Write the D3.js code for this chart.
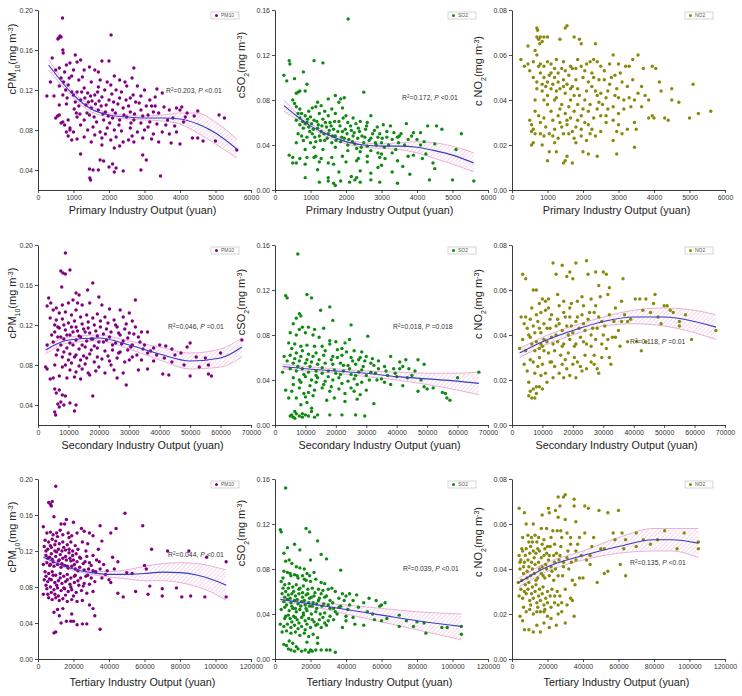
<!DOCTYPE html>
<html lang="en">
<head>
<meta charset="utf-8">
<title>Industry output vs pollutants</title>
<script src="https://d3js.org/d3.v7.min.js"></script>
<style>
body { margin: 0; background: #fff; }
text { font-family: "Liberation Sans", Arial, sans-serif; }
</style>
</head>
<body>
<svg id="chart" width="742" height="696"></svg>
<script>
// ---- scatter data: [output (yuan), concentration (mg m-3)] ----
var pm10Primary = [[690,0.192],[2060,0.175],[580,0.172],[620,0.174],[650,0.173],[560,0.171],[700,0.160],[710,0.157],[400,0.152],[1050,0.155],[1200,0.150],[1800,0.149],[2000,0.149],[2700,0.142],[1100,0.148],[1450,0.143],[1600,0.140],[1700,0.138],[900,0.147],[800,0.145],[600,0.142],[500,0.140],[750,0.138],[1000,0.140],[1300,0.140],[1250,0.133],[950,0.134],[880,0.132],[1150,0.130],[2150,0.134],[2300,0.130],[2650,0.132],[2450,0.128],[1950,0.128],[1750,0.130],[1500,0.128],[350,0.128],[600,0.124],[850,0.125],[1300,0.122],[1700,0.123],[2050,0.125],[2200,0.120],[2500,0.124],[2800,0.124],[3000,0.120],[3350,0.121],[2900,0.114],[3500,0.117],[250,0.114],[450,0.114],[700,0.115],[1000,0.115],[1100,0.118],[1400,0.117],[1600,0.115],[1800,0.113],[2000,0.110],[2300,0.112],[2600,0.112],[2750,0.108],[3200,0.104],[3150,0.110],[3300,0.104],[3700,0.100],[3900,0.102],[4050,0.103],[4000,0.100],[4500,0.099],[5100,0.095],[5250,0.092],[600,0.105],[800,0.106],[1050,0.108],[1200,0.110],[1350,0.105],[1500,0.102],[1700,0.100],[1900,0.098],[2100,0.100],[2400,0.102],[2600,0.098],[2900,0.100],[3100,0.095],[3400,0.097],[600,0.095],[850,0.090],[1100,0.093],[1300,0.090],[1450,0.095],[1650,0.088],[1850,0.090],[2100,0.092],[2300,0.090],[2500,0.093],[2700,0.090],[2900,0.087],[3150,0.088],[3350,0.086],[3650,0.090],[3800,0.092],[4150,0.093],[4400,0.094],[750,0.085],[900,0.082],[1000,0.078],[1200,0.085],[1400,0.080],[1550,0.083],[1750,0.078],[1950,0.082],[2150,0.080],[2350,0.079],[2600,0.082],[2800,0.078],[3000,0.080],[3250,0.076],[3500,0.078],[3700,0.076],[3900,0.078],[800,0.078],[850,0.074],[1300,0.073],[1600,0.075],[1800,0.072],[2050,0.070],[2200,0.073],[2400,0.068],[2550,0.070],[2700,0.068],[2950,0.072],[3200,0.071],[3400,0.068],[3750,0.067],[4000,0.066],[4350,0.072],[4500,0.072],[4650,0.069],[5000,0.069],[5600,0.060],[1800,0.065],[2150,0.062],[2950,0.055],[3050,0.050],[1200,0.056],[1750,0.050],[1850,0.049],[2100,0.046],[2200,0.042],[2000,0.043],[1450,0.041],[1550,0.040],[1460,0.032],[1480,0.030],[2150,0.038],[2400,0.039],[2900,0.040],[3450,0.034],[1700,0.040],[500,0.092],[550,0.094],[650,0.087],[700,0.088],[900,0.080],[950,0.070],
  [650,0.132],[720,0.128],[780,0.120],[820,0.112],[950,0.118],[1020,0.101],[1080,0.097],[1150,0.104],[1180,0.096],[1230,0.118],[1320,0.112],[1380,0.097],[1420,0.108],[1480,0.114],[1520,0.109],[1580,0.093],[1620,0.106],[1680,0.118],[1720,0.109],[1780,0.104],[1830,0.096],[1880,0.120],[1920,0.105],[1980,0.094],[2020,0.087],[2080,0.116],[2130,0.108],[2180,0.097],[2250,0.106],[2280,0.085],[2350,0.118],[2420,0.095],[2480,0.110],[2550,0.104],[2620,0.087],[2680,0.115],[2720,0.096],[2850,0.107],[2950,0.094],[3050,0.104],[3100,0.083],[3250,0.098],[3300,0.113],[3550,0.103],[3600,0.085],[3850,0.084],[4100,0.088],[4200,0.097],[1100,0.071],[1500,0.068],[1900,0.076],[2300,0.064],[2650,0.074]];

var so2Primary = [[2060,0.152],[400,0.115],[420,0.112],[1100,0.115],[1350,0.113],[250,0.102],[330,0.097],[800,0.105],[550,0.099],[900,0.094],[700,0.088],[650,0.087],[600,0.086],[850,0.088],[2500,0.087],[1500,0.081],[1850,0.081],[1700,0.084],[1950,0.082],[1800,0.078],[1200,0.078],[500,0.080],[550,0.077],[600,0.074],[700,0.072],[950,0.070],[1050,0.073],[1150,0.074],[1300,0.075],[1400,0.070],[1600,0.072],[1900,0.073],[750,0.068],[850,0.066],[1000,0.065],[1250,0.068],[1500,0.066],[1700,0.068],[2000,0.066],[2200,0.064],[2700,0.066],[600,0.062],[900,0.060],[1100,0.062],[1350,0.063],[1550,0.060],[1800,0.061],[2050,0.060],[2400,0.061],[2600,0.060],[3050,0.058],[3250,0.057],[3700,0.059],[4300,0.057],[4550,0.057],[4700,0.054],[5250,0.050],[700,0.058],[800,0.055],[950,0.056],[1200,0.055],[1300,0.052],[1450,0.056],[1650,0.054],[1900,0.052],[2150,0.053],[2350,0.055],[2550,0.054],[2800,0.053],[2950,0.050],[3150,0.052],[3450,0.047],[3550,0.050],[3900,0.051],[4100,0.051],[650,0.050],[750,0.048],[900,0.047],[1050,0.050],[1250,0.048],[1500,0.050],[1700,0.048],[1950,0.046],[2200,0.048],[2450,0.048],[2700,0.046],[2900,0.047],[3300,0.045],[3500,0.048],[3750,0.045],[4000,0.045],[4200,0.043],[1000,0.042],[1150,0.043],[1400,0.044],[1600,0.042],[1850,0.043],[2050,0.040],[2250,0.041],[2500,0.042],[2600,0.039],[2850,0.040],[3000,0.042],[3200,0.040],[3400,0.036],[3650,0.040],[4500,0.041],[5100,0.036],[600,0.042],[800,0.044],[850,0.036],[1100,0.038],[1350,0.036],[1700,0.038],[2050,0.035],[2300,0.037],[2400,0.034],[2700,0.035],[2900,0.033],[3000,0.032],[3300,0.033],[3900,0.031],[4250,0.032],[400,0.031],[500,0.029],[700,0.028],[900,0.029],[1150,0.030],[1300,0.028],[1600,0.029],[1900,0.030],[2350,0.028],[2600,0.030],[2950,0.029],[3100,0.028],[3450,0.026],[3750,0.030],[4150,0.028],[4450,0.024],[500,0.024],[600,0.024],[850,0.023],[1250,0.025],[1500,0.024],[2000,0.025],[2300,0.026],[2600,0.025],[3000,0.022],[3600,0.021],[2900,0.020],[3800,0.014],[4500,0.019],[1200,0.018],[2400,0.017],[1800,0.016],[2700,0.015],[3300,0.016],[850,0.011],[1500,0.011],[1250,0.007],[1500,0.008],[1650,0.006],[1700,0.004],[1850,0.008],[2100,0.007],[2250,0.009],[2400,0.007],[2700,0.009],[2950,0.007],[3450,0.006],[4350,0.009],[5000,0.009],[5600,0.008],[2150,0.012],[2300,0.011],[1100,0.029],[1650,0.023],
  [650,0.068],[700,0.064],[780,0.061],[850,0.059],[920,0.063],[980,0.052],[1030,0.059],[1080,0.054],[1120,0.047],[1180,0.061],[1220,0.058],[1280,0.044],[1320,0.057],[1380,0.050],[1420,0.060],[1470,0.046],[1530,0.053],[1580,0.057],[1620,0.048],[1680,0.061],[1720,0.044],[1770,0.052],[1830,0.057],[1880,0.047],[1920,0.064],[1980,0.054],[2030,0.050],[2080,0.045],[2130,0.057],[2180,0.043],[2230,0.051],[2280,0.059],[2330,0.046],[2380,0.052],[2430,0.038],[2530,0.047],[2580,0.057],[2650,0.044],[2750,0.050],[2830,0.042],[2880,0.056],[3020,0.046],[3080,0.038],[3150,0.047],[3350,0.051],[3480,0.042],[3850,0.048],[4100,0.040]];

var no2Primary = [[700,0.072],[720,0.071],[1550,0.073],[1500,0.072],[800,0.068],[750,0.067],[700,0.068],[900,0.068],[1000,0.068],[850,0.066],[780,0.065],[1350,0.067],[1750,0.068],[1900,0.067],[1950,0.065],[2350,0.065],[450,0.064],[650,0.062],[700,0.060],[250,0.058],[350,0.055],[450,0.056],[600,0.057],[800,0.056],[900,0.055],[1000,0.057],[1100,0.056],[1200,0.054],[1300,0.052],[1400,0.054],[1500,0.053],[1600,0.051],[1700,0.054],[1800,0.054],[1950,0.055],[2100,0.056],[2200,0.057],[2300,0.058],[2400,0.057],[2500,0.055],[2600,0.053],[2850,0.060],[3000,0.056],[3200,0.055],[3300,0.055],[3400,0.058],[3550,0.060],[3700,0.054],[3950,0.055],[4050,0.054],[500,0.053],[600,0.050],[700,0.048],[800,0.052],[900,0.050],[1000,0.048],[1100,0.052],[1200,0.050],[1300,0.048],[1450,0.049],[1550,0.047],[1700,0.046],[1800,0.049],[2000,0.050],[2150,0.048],[2300,0.050],[2450,0.049],[2600,0.049],[2800,0.050],[2900,0.051],[3100,0.048],[3250,0.046],[3400,0.049],[3650,0.046],[4150,0.048],[4500,0.045],[5100,0.047],[700,0.045],[850,0.044],[1000,0.042],[1100,0.045],[1250,0.044],[1350,0.045],[1500,0.043],[1650,0.045],[1750,0.042],[1900,0.042],[2100,0.044],[2250,0.046],[2400,0.042],[2500,0.043],[2700,0.044],[2900,0.042],[3000,0.041],[3300,0.041],[3450,0.040],[3750,0.042],[3850,0.040],[4200,0.044],[4500,0.040],[4700,0.039],[900,0.040],[1000,0.038],[1200,0.040],[1400,0.038],[1600,0.037],[1850,0.038],[2000,0.036],[2200,0.038],[2400,0.036],[2550,0.038],[2700,0.036],[2850,0.037],[3000,0.034],[3150,0.036],[650,0.035],[750,0.033],[900,0.032],[1100,0.035],[1300,0.033],[1500,0.034],[1650,0.032],[1750,0.035],[1950,0.033],[2050,0.030],[2300,0.032],[2500,0.033],[2650,0.030],[2850,0.031],[3950,0.033],[4000,0.032],[4300,0.032],[4400,0.031],[5000,0.032],[5250,0.034],[5600,0.035],[3850,0.032],[500,0.031],[550,0.029],[600,0.027],[550,0.026],[650,0.025],[800,0.030],[950,0.028],[1200,0.027],[1400,0.028],[1550,0.029],[1800,0.028],[2250,0.027],[2500,0.026],[2950,0.026],[3100,0.025],[3250,0.027],[3500,0.027],[3450,0.030],[1700,0.026],[1600,0.025],[800,0.025],[900,0.024],[1050,0.025],[1300,0.023],[1450,0.025],[1750,0.023],[1950,0.024],[2200,0.025],[600,0.021],[550,0.020],[850,0.020],[1200,0.021],[1800,0.021],[2100,0.022],[2850,0.022],[3450,0.019],[1050,0.017],[1250,0.017],[2000,0.017],[2150,0.016],[2950,0.016],[2400,0.015],[1550,0.015],[1000,0.013],[1500,0.013],[1700,0.012],[1450,0.012],
  [1150,0.047],[1250,0.041],[1350,0.036],[1450,0.046],[1650,0.040],[1850,0.045],[2050,0.040],[2150,0.035],[2350,0.044],[2450,0.039],[2650,0.041],[2750,0.047],[2950,0.045],[3150,0.040],[3350,0.037],[3550,0.043],[950,0.046],[1050,0.051],[1250,0.058],[1450,0.057],[1650,0.055],[1850,0.058],[2050,0.053],[2250,0.052],[2750,0.056],[3050,0.052],[1150,0.031],[1350,0.030],[1550,0.031],[1850,0.031],[2150,0.029],[2650,0.033],[750,0.055],[850,0.047],[650,0.040],[1950,0.027],[2350,0.024],[1150,0.024],[3000,0.029],[3650,0.037]];

var pm10Secondary = [[9000,0.192],[7500,0.174],[8200,0.172],[9000,0.171],[10500,0.175],[7800,0.158],[18000,0.162],[16300,0.155],[12500,0.152],[13500,0.150],[20000,0.148],[3500,0.147],[4200,0.142],[6000,0.137],[8000,0.140],[10000,0.142],[11500,0.145],[13000,0.142],[14500,0.140],[17000,0.142],[21000,0.140],[23500,0.136],[32000,0.145],[27000,0.135],[30000,0.132],[3000,0.139],[5000,0.135],[7000,0.132],[9000,0.133],[11000,0.130],[12500,0.135],[14000,0.128],[16000,0.130],[18000,0.127],[19500,0.131],[22000,0.128],[25000,0.125],[28000,0.128],[31000,0.124],[36000,0.113],[4000,0.127],[6000,0.125],[8000,0.126],[10000,0.122],[12000,0.124],[14500,0.121],[16500,0.123],[18500,0.120],[20500,0.118],[23000,0.122],[26000,0.118],[29000,0.121],[32000,0.118],[34000,0.113],[5500,0.120],[7000,0.117],[9000,0.115],[11000,0.118],[13000,0.114],[15000,0.116],[17000,0.112],[19000,0.114],[21500,0.111],[24000,0.113],[27000,0.110],[30000,0.112],[33000,0.108],[40000,0.100],[4500,0.110],[6500,0.108],[8500,0.106],[10500,0.110],[12500,0.105],[14000,0.108],[16000,0.104],[18000,0.106],[20000,0.103],[22500,0.105],[25500,0.102],[28000,0.104],[31000,0.100],[35000,0.100],[38000,0.097],[42000,0.099],[44000,0.096],[49000,0.098],[50000,0.102],[3000,0.100],[5000,0.103],[7500,0.100],[9500,0.097],[11500,0.100],[13500,0.096],[15500,0.098],[17500,0.095],[19500,0.097],[22000,0.094],[24500,0.095],[27000,0.093],[29500,0.095],[32500,0.090],[36000,0.092],[39000,0.090],[41500,0.087],[45000,0.090],[47000,0.092],[52000,0.088],[55000,0.087],[60000,0.092],[6000,0.090],[8000,0.088],[10000,0.085],[12000,0.088],[14000,0.085],[16000,0.087],[18500,0.083],[21000,0.086],[23500,0.084],[26000,0.087],[28500,0.083],[31000,0.088],[34000,0.085],[44000,0.083],[48000,0.080],[53000,0.078],[56000,0.080],[2500,0.078],[3000,0.076],[5500,0.080],[8000,0.078],[10500,0.075],[12500,0.073],[14500,0.076],[16500,0.072],[19000,0.074],[22000,0.072],[25000,0.075],[28000,0.072],[33000,0.075],[36000,0.076],[41000,0.071],[43000,0.070],[50000,0.069],[56000,0.071],[57000,0.069],[4000,0.066],[5000,0.067],[7000,0.069],[9500,0.067],[12000,0.068],[14000,0.066],[17000,0.070],[26000,0.067],[29000,0.060],[5500,0.056],[6000,0.052],[7000,0.055],[8000,0.050],[9000,0.049],[18000,0.049],[6500,0.041],[7500,0.043],[8500,0.040],[10500,0.042],[12000,0.034],[12500,0.040],[7000,0.038],[5500,0.033],[5800,0.030],[67000,0.105],
  [5500,0.113],[6500,0.118],[7500,0.108],[8500,0.120],[9500,0.110],[10500,0.102],[11500,0.113],[12500,0.118],[13500,0.109],[14500,0.100],[15500,0.113],[16500,0.117],[17500,0.106],[18500,0.099],[19500,0.109],[20500,0.124],[21500,0.103],[22500,0.116],[23500,0.108],[24500,0.100],[25500,0.120],[26500,0.112],[27500,0.101],[28500,0.116],[29500,0.107],[30500,0.098],[31500,0.111],[33500,0.103],[34500,0.096],[37000,0.094],[6500,0.095],[8500,0.093],[10500,0.091],[12500,0.090],[15000,0.089],[17000,0.091],[19500,0.088],[23000,0.089],[26500,0.092],[30000,0.085],[9000,0.080],[11000,0.082],[13500,0.079],[15500,0.081],[20000,0.078],[24000,0.080],[38000,0.084]];

var so2Secondary = [[7500,0.152],[3500,0.115],[4000,0.113],[10500,0.116],[12000,0.113],[15000,0.102],[18000,0.105],[19000,0.093],[8000,0.099],[8500,0.097],[7000,0.095],[6000,0.090],[9000,0.087],[8000,0.085],[11000,0.087],[13000,0.085],[16000,0.086],[25000,0.089],[30500,0.079],[5000,0.082],[7000,0.080],[10000,0.082],[12500,0.080],[14500,0.078],[18000,0.075],[20000,0.074],[23000,0.073],[24500,0.076],[4500,0.073],[6500,0.072],[8500,0.070],[10500,0.071],[13000,0.070],[15500,0.070],[18000,0.072],[20500,0.067],[22000,0.068],[26000,0.066],[28500,0.065],[3000,0.061],[5000,0.062],[7000,0.064],[9000,0.066],[11000,0.063],[13500,0.064],[16000,0.062],[19000,0.061],[22000,0.062],[25000,0.060],[28000,0.060],[30000,0.061],[32000,0.059],[34000,0.057],[38000,0.061],[41000,0.056],[43000,0.058],[47000,0.058],[4000,0.057],[6000,0.055],[8000,0.057],[10000,0.055],[12000,0.056],[14000,0.054],[16500,0.055],[19000,0.054],[21500,0.055],[24000,0.053],[26500,0.054],[29000,0.052],[31500,0.055],[36000,0.052],[39000,0.050],[42000,0.052],[44000,0.050],[49000,0.054],[2500,0.047],[5000,0.050],[7000,0.048],[9000,0.050],[11000,0.047],[13500,0.048],[15500,0.046],[17500,0.048],[20000,0.046],[22500,0.048],[25000,0.045],[27500,0.047],[30000,0.044],[33000,0.046],[35000,0.041],[37000,0.044],[40000,0.043],[45000,0.044],[48000,0.040],[60000,0.042],[67000,0.047],[6000,0.042],[8000,0.040],[10000,0.043],[12000,0.040],[14000,0.042],[16500,0.039],[19000,0.040],[21000,0.042],[24000,0.039],[26000,0.041],[28500,0.038],[31000,0.040],[38000,0.036],[42000,0.035],[47000,0.030],[49000,0.034],[50000,0.032],[52000,0.033],[55000,0.029],[56000,0.028],[3500,0.031],[5500,0.030],[8000,0.033],[9500,0.028],[11000,0.029],[13000,0.031],[15500,0.033],[18000,0.030],[21000,0.032],[23000,0.028],[26000,0.030],[28000,0.027],[30000,0.031],[4500,0.024],[7000,0.024],[10000,0.025],[12500,0.026],[17000,0.022],[19500,0.024],[23000,0.021],[27000,0.023],[32500,0.019],[56500,0.024],[57500,0.022],[8500,0.018],[12000,0.015],[6500,0.012],[9000,0.010],[12000,0.012],[5000,0.008],[5500,0.009],[6000,0.007],[7000,0.010],[8000,0.008],[9000,0.007],[10000,0.009],[11000,0.008],[13000,0.007],[14000,0.009],[18000,0.009],[22000,0.009],[26500,0.009],[29500,0.008],[10500,0.020],[6500,0.006],
  [5500,0.068],[6500,0.059],[7500,0.052],[8500,0.061],[9500,0.045],[10500,0.058],[11500,0.052],[12500,0.061],[13500,0.044],[14500,0.058],[15500,0.051],[16500,0.066],[17500,0.043],[18500,0.058],[19500,0.049],[20500,0.060],[21500,0.045],[22500,0.053],[23500,0.065],[24500,0.050],[25500,0.057],[26500,0.044],[27500,0.058],[28500,0.049],[29500,0.057],[31500,0.047],[32500,0.053],[34000,0.050],[36500,0.048],[39500,0.046],[41000,0.050],[43500,0.042],[46000,0.048],[6000,0.036],[8500,0.038],[11500,0.035],[13500,0.038],[16000,0.036],[18500,0.034],[22000,0.037],[25000,0.033],[27000,0.036],[33500,0.040],[36000,0.038]];

var no2Secondary = [[3500,0.067],[4500,0.065],[13500,0.072],[16500,0.071],[21000,0.072],[24500,0.073],[14500,0.067],[18000,0.066],[19000,0.068],[20000,0.065],[25000,0.067],[27500,0.068],[30000,0.068],[31000,0.067],[36500,0.065],[8000,0.060],[7000,0.060],[10000,0.056],[11000,0.055],[12000,0.056],[15000,0.058],[17000,0.055],[19500,0.054],[21500,0.055],[23000,0.057],[26000,0.056],[28500,0.062],[29000,0.057],[31500,0.058],[32000,0.061],[34000,0.052],[36000,0.055],[40500,0.056],[42000,0.056],[44000,0.056],[47000,0.058],[46500,0.054],[50000,0.053],[51000,0.053],[3000,0.048],[4500,0.048],[6000,0.047],[8000,0.049],[9500,0.050],[11000,0.051],[13000,0.049],[15000,0.047],[17000,0.050],[19000,0.048],[21000,0.046],[23000,0.049],[25000,0.047],[27000,0.050],[29500,0.046],[32000,0.049],[36000,0.046],[38000,0.046],[53000,0.050],[55000,0.046],[57000,0.049],[55000,0.044],[49000,0.045],[5000,0.043],[7000,0.044],[9000,0.043],[10500,0.045],[12500,0.043],[14500,0.044],[16500,0.042],[18000,0.044],[20000,0.041],[22000,0.043],[24000,0.042],[26000,0.040],[28000,0.043],[30000,0.040],[33000,0.039],[34000,0.039],[38000,0.037],[41000,0.037],[44000,0.037],[59000,0.038],[67000,0.042],[3500,0.038],[6000,0.039],[8000,0.037],[9500,0.036],[10500,0.038],[11500,0.037],[13000,0.039],[15000,0.037],[17000,0.036],[19000,0.038],[21000,0.036],[23500,0.037],[26000,0.035],[29500,0.036],[31000,0.034],[35500,0.035],[42500,0.033],[2500,0.034],[4500,0.033],[7500,0.033],[9000,0.034],[10000,0.035],[12000,0.032],[14000,0.033],[16000,0.031],[18500,0.032],[20500,0.030],[24000,0.031],[27000,0.031],[29500,0.030],[32000,0.030],[4000,0.027],[6000,0.029],[7000,0.028],[8500,0.026],[10000,0.027],[12500,0.028],[14000,0.026],[16500,0.027],[18000,0.025],[20000,0.027],[22500,0.026],[24500,0.025],[27000,0.027],[28000,0.025],[32500,0.027],[5000,0.024],[7500,0.023],[9500,0.022],[11000,0.023],[13500,0.021],[15500,0.023],[17000,0.021],[19000,0.022],[21000,0.021],[23000,0.024],[28500,0.023],[5500,0.019],[8000,0.017],[9000,0.017],[10000,0.016],[11500,0.019],[6000,0.015],[7000,0.016],[5500,0.013],[6500,0.012],[7500,0.012],[8000,0.014],
  [4000,0.045],[5500,0.040],[6500,0.036],[7500,0.041],[8500,0.046],[9500,0.041],[10500,0.033],[11500,0.043],[12500,0.047],[13500,0.036],[14500,0.040],[15500,0.045],[16500,0.035],[17500,0.048],[18500,0.040],[19500,0.044],[20500,0.035],[21500,0.048],[22500,0.039],[23500,0.045],[24500,0.036],[25500,0.050],[26500,0.043],[27500,0.038],[28500,0.048],[30500,0.044],[31500,0.038],[33500,0.046],[35000,0.042],[37000,0.049],[39000,0.047],[43000,0.051],[45500,0.050],[48000,0.048],[52000,0.051],[6500,0.052],[9000,0.054],[12000,0.052],[15500,0.053],[19000,0.052],[23500,0.053],[27500,0.053],[9000,0.030],[13000,0.028],[17500,0.029],[21500,0.028],[26000,0.028]];

var pm10Tertiary = [[10000,0.192],[6000,0.174],[7000,0.172],[8000,0.175],[7500,0.170],[9000,0.158],[16000,0.155],[20000,0.152],[49000,0.162],[59000,0.148],[35000,0.148],[44000,0.145],[24500,0.145],[13000,0.150],[15000,0.150],[3000,0.147],[5000,0.140],[7000,0.141],[8500,0.138],[10500,0.140],[12500,0.143],[14000,0.138],[17000,0.140],[19000,0.137],[22000,0.140],[26000,0.142],[29000,0.140],[31000,0.137],[41000,0.140],[4000,0.132],[6000,0.130],[8000,0.133],[10000,0.131],[12000,0.128],[14000,0.130],[16500,0.127],[18500,0.130],[21000,0.126],[25000,0.130],[28000,0.128],[36000,0.131],[3500,0.125],[5500,0.122],[7500,0.124],[9500,0.120],[11500,0.122],[13500,0.120],[15500,0.121],[17500,0.118],[19500,0.120],[22500,0.122],[27000,0.120],[31000,0.115],[34000,0.122],[42000,0.113],[64000,0.122],[73000,0.120],[85000,0.120],[4500,0.115],[6500,0.113],[8000,0.111],[10000,0.114],[12000,0.110],[14000,0.112],[16000,0.110],[18000,0.112],[20000,0.110],[22000,0.108],[24000,0.112],[26500,0.108],[29000,0.107],[33000,0.110],[37000,0.105],[45000,0.108],[60000,0.104],[95000,0.113],[106000,0.108],[3000,0.105],[5000,0.107],[7000,0.105],[9000,0.103],[11000,0.105],[13000,0.102],[15000,0.104],[17000,0.101],[19000,0.103],[21000,0.100],[23500,0.102],[26000,0.099],[28500,0.100],[31000,0.098],[35000,0.100],[39000,0.098],[43000,0.100],[50000,0.096],[53000,0.095],[61000,0.100],[4000,0.097],[6000,0.095],[8000,0.097],[10000,0.093],[12500,0.095],[14500,0.092],[16500,0.094],[18500,0.090],[21000,0.093],[24000,0.090],[27000,0.092],[30000,0.090],[36000,0.090],[40000,0.088],[3500,0.088],[5500,0.086],[7500,0.088],[9500,0.085],[11500,0.087],[13500,0.084],[15500,0.086],[18000,0.083],[20500,0.085],[23000,0.082],[26000,0.084],[29000,0.083],[32000,0.086],[41000,0.085],[63000,0.081],[70000,0.078],[78000,0.079],[3000,0.072],[5000,0.078],[7000,0.080],[9000,0.077],[11000,0.079],[13000,0.076],[15000,0.078],[17000,0.075],[19000,0.077],[21500,0.074],[24500,0.076],[27500,0.073],[31000,0.075],[45000,0.073],[48000,0.069],[55000,0.075],[62000,0.072],[70000,0.070],[81000,0.069],[86000,0.070],[94000,0.069],[106000,0.069],[6000,0.068],[8000,0.066],[10000,0.068],[12000,0.065],[14000,0.067],[16500,0.064],[19000,0.066],[22000,0.064],[25000,0.065],[29000,0.060],[31000,0.056],[11000,0.055],[14000,0.056],[9000,0.052],[12000,0.048],[19000,0.050],[16000,0.042],[20000,0.042],[22000,0.038],[25000,0.039],[27500,0.039],[13000,0.040],[10000,0.030],[9000,0.029],[32000,0.048],[35000,0.033],[18500,0.042],
  [4500,0.120],[5500,0.112],[6500,0.104],[7500,0.117],[8500,0.108],[9500,0.127],[10500,0.119],[11500,0.109],[12500,0.116],[13500,0.106],[14500,0.124],[15500,0.114],[16500,0.103],[17500,0.122],[18500,0.109],[19500,0.115],[20500,0.105],[21500,0.117],[22500,0.098],[23500,0.113],[25500,0.106],[27500,0.114],[30000,0.104],[32500,0.097],[34500,0.108],[38000,0.094],[4500,0.092],[6500,0.089],[8500,0.093],[10500,0.082],[12500,0.090],[14500,0.079],[16500,0.088],[18500,0.080],[20500,0.092],[22500,0.087],[25500,0.081],[28000,0.093],[5500,0.072],[7500,0.074],[9500,0.072],[11500,0.070],[15500,0.071],[20000,0.070],[4500,0.082],[17500,0.135],[11000,0.136],[7000,0.126]];

var so2Tertiary = [[6000,0.152],[3000,0.115],[3500,0.113],[17500,0.116],[19500,0.113],[24000,0.105],[11000,0.102],[14000,0.097],[7000,0.099],[5000,0.094],[26000,0.093],[20000,0.088],[29000,0.089],[37000,0.079],[6000,0.087],[8000,0.088],[9500,0.085],[12000,0.082],[14000,0.081],[16500,0.080],[18000,0.076],[22000,0.077],[5000,0.078],[7000,0.077],[9000,0.074],[11000,0.075],[13000,0.072],[15500,0.074],[17500,0.070],[20000,0.069],[23000,0.071],[26000,0.068],[28000,0.067],[32000,0.063],[3500,0.069],[5500,0.066],[8000,0.067],[10000,0.064],[12000,0.066],[14000,0.063],[16000,0.065],[18500,0.062],[21000,0.063],[24500,0.062],[27000,0.061],[30000,0.062],[34000,0.060],[38000,0.058],[40000,0.056],[42000,0.058],[46000,0.057],[53000,0.054],[57000,0.052],[60000,0.048],[62000,0.050],[4000,0.058],[6000,0.060],[7500,0.057],[9500,0.058],[11500,0.056],[13500,0.058],[15500,0.055],[17500,0.057],[19500,0.054],[22000,0.056],[25000,0.054],[28000,0.055],[31000,0.052],[36000,0.054],[44000,0.052],[50000,0.050],[5000,0.051],[7000,0.053],[9000,0.050],[11000,0.052],[13000,0.049],[15000,0.051],[17000,0.048],[19000,0.050],[21000,0.047],[23500,0.049],[26500,0.047],[30000,0.048],[33000,0.045],[37000,0.047],[41000,0.044],[47000,0.046],[55000,0.040],[59000,0.047],[3500,0.044],[5500,0.046],[8000,0.043],[10000,0.045],[12000,0.042],[14000,0.044],[16000,0.041],[18000,0.043],[20500,0.040],[23000,0.042],[25500,0.040],[28000,0.041],[31000,0.038],[35000,0.040],[40000,0.038],[44000,0.037],[52000,0.042],[56000,0.035],[63000,0.036],[70000,0.039],[6000,0.038],[8500,0.036],[10500,0.038],[12500,0.035],[15000,0.037],[17000,0.034],[19000,0.036],[22000,0.033],[25000,0.035],[28000,0.032],[33000,0.035],[40000,0.034],[45000,0.031],[60000,0.034],[74000,0.034],[80000,0.033],[84000,0.032],[3000,0.031],[5000,0.029],[7000,0.031],[9000,0.028],[11000,0.030],[13000,0.027],[15000,0.029],[17000,0.026],[20000,0.028],[23000,0.030],[26000,0.028],[29000,0.030],[38000,0.028],[50000,0.030],[70000,0.029],[78000,0.029],[4000,0.024],[6500,0.025],[9000,0.023],[11500,0.024],[14000,0.021],[16500,0.023],[19000,0.020],[21500,0.022],[24000,0.019],[85000,0.023],[94000,0.028],[97000,0.028],[105000,0.029],[105000,0.022],[5000,0.013],[6500,0.012],[8000,0.016],[10000,0.014],[12000,0.011],[7500,0.009],[9000,0.008],[11000,0.007],[13000,0.009],[15000,0.007],[17000,0.008],[19000,0.006],[21000,0.007],[23000,0.008],[26000,0.008],[29000,0.008],[31000,0.008],[34000,0.006],[20000,0.008],[18000,0.015],[24000,0.014],
  [4500,0.063],[5500,0.055],[6500,0.048],[7500,0.063],[8500,0.054],[9500,0.047],[10500,0.060],[11500,0.045],[12500,0.053],[13500,0.062],[14500,0.047],[15500,0.059],[16500,0.052],[17500,0.045],[18500,0.058],[19500,0.047],[20500,0.055],[21500,0.050],[22500,0.059],[23500,0.045],[24500,0.052],[26000,0.058],[27500,0.049],[29000,0.056],[31000,0.045],[32500,0.050],[34000,0.042],[36000,0.046],[39000,0.052],[42000,0.048],[5500,0.036],[7500,0.039],[9500,0.033],[11500,0.037],[13500,0.032],[16000,0.039],[18000,0.031],[21000,0.035],[24000,0.031],[27000,0.037],[30000,0.034],[4500,0.072],[8500,0.076],[12500,0.074],[16500,0.071],[19500,0.074]];

var no2Tertiary = [[4000,0.067],[7000,0.065],[30000,0.073],[29000,0.072],[26000,0.072],[35000,0.071],[27000,0.068],[35000,0.068],[41000,0.068],[43000,0.067],[49000,0.066],[60000,0.066],[54000,0.065],[24500,0.066],[20500,0.067],[21000,0.065],[30000,0.062],[12000,0.060],[8000,0.060],[17000,0.064],[26000,0.063],[36000,0.061],[16500,0.058],[19500,0.058],[23000,0.057],[25500,0.057],[27500,0.057],[31000,0.056],[33000,0.054],[38000,0.054],[41000,0.056],[46000,0.054],[57000,0.056],[62000,0.056],[70000,0.056],[86000,0.057],[97000,0.056],[6000,0.054],[9000,0.055],[11000,0.054],[13000,0.055],[15000,0.054],[18000,0.053],[22000,0.054],[28000,0.054],[9500,0.052],[11500,0.052],[14000,0.052],[17000,0.051],[20000,0.050],[24000,0.051],[33000,0.051],[37000,0.051],[45000,0.050],[52000,0.049],[58000,0.053],[64000,0.053],[74000,0.053],[82000,0.053],[6000,0.048],[8000,0.049],[10000,0.047],[12000,0.048],[13500,0.047],[15500,0.048],[18000,0.046],[19500,0.047],[21000,0.046],[25000,0.047],[27000,0.046],[31000,0.045],[36000,0.048],[44000,0.046],[50000,0.049],[63000,0.049],[70000,0.050],[78000,0.051],[93000,0.049],[105000,0.052],[105000,0.049],[4000,0.046],[5000,0.044],[7000,0.043],[9000,0.044],[11000,0.043],[13000,0.042],[15000,0.043],[17000,0.041],[19000,0.042],[22000,0.041],[24000,0.043],[29000,0.041],[32000,0.040],[38000,0.036],[40000,0.036],[42000,0.044],[44000,0.042],[61000,0.042],[64000,0.037],[54000,0.039],[52000,0.038],[4500,0.040],[6500,0.038],[8500,0.039],[10500,0.037],[12500,0.038],[14500,0.036],[16500,0.038],[18500,0.036],[21000,0.037],[23500,0.035],[26000,0.037],[28500,0.037],[34000,0.035],[48000,0.034],[3500,0.034],[5500,0.035],[7500,0.033],[9500,0.034],[11500,0.032],[13500,0.033],[15500,0.031],[17500,0.032],[20000,0.030],[22500,0.031],[25500,0.030],[30000,0.031],[33000,0.027],[35500,0.033],[4000,0.028],[6000,0.027],[8000,0.029],[10000,0.026],[12000,0.027],[14000,0.025],[16000,0.026],[18000,0.024],[20000,0.025],[22000,0.023],[24000,0.025],[26000,0.024],[28000,0.025],[31000,0.024],[34000,0.026],[4500,0.019],[6000,0.017],[8000,0.021],[10000,0.022],[12000,0.020],[14000,0.021],[16000,0.021],[18000,0.021],[20000,0.019],[22000,0.018],[26000,0.020],[28000,0.021],[30000,0.016],[35000,0.019],[7000,0.013],[9500,0.013],[12000,0.012],[14000,0.015],[16000,0.012],[18000,0.016],[21000,0.014],[25000,0.015],
  [4500,0.043],[5500,0.049],[6500,0.041],[7500,0.046],[8500,0.036],[9500,0.041],[10500,0.050],[11500,0.040],[12500,0.045],[13500,0.035],[14500,0.049],[15500,0.040],[16500,0.045],[17500,0.037],[18500,0.049],[19500,0.040],[20500,0.044],[21500,0.050],[22500,0.039],[23500,0.046],[24500,0.040],[26500,0.044],[27500,0.050],[29000,0.043],[31500,0.048],[33500,0.043],[36000,0.044],[39000,0.046],[5000,0.031],[7000,0.030],[9000,0.031],[11000,0.029],[13000,0.030],[15000,0.028],[17000,0.029],[19000,0.027],[21500,0.028],[24000,0.028],[27000,0.028],[6500,0.023],[10500,0.024],[14500,0.023],[18500,0.022]];

// ---- fitted curves with confidence band ----
var fitPm10Primary = {x: [300,1000,1500,2000,2500,3000,3500,4000,4500,5000,5600],
  y: [0.145,0.115,0.101,0.095,0.093,0.092,0.092,0.091,0.086,0.077,0.061],
  hi: [0.150,0.118,0.104,0.097,0.095,0.094,0.095,0.097,0.097,0.088,0.071],
  lo: [0.140,0.112,0.098,0.093,0.091,0.090,0.089,0.086,0.077,0.066,0.052]};
var fitSo2Primary = {x: [250,600,1000,1500,2000,2500,3000,3500,4000,4500,5000,5600],
  y: [0.075,0.066,0.057,0.049,0.043,0.040,0.039,0.039,0.038,0.035,0.031,0.024],
  hi: [0.080,0.069,0.059,0.051,0.045,0.042,0.041,0.042,0.043,0.042,0.039,0.033],
  lo: [0.070,0.063,0.055,0.047,0.041,0.038,0.037,0.036,0.033,0.028,0.023,0.016]};
var fitPm10Secondary = {x: [2500,10000,20000,30000,40000,50000,60000,67000],
  y: [0.095,0.105,0.107,0.100,0.091,0.084,0.087,0.098],
  hi: [0.099,0.108,0.110,0.104,0.098,0.092,0.096,0.107],
  lo: [0.091,0.102,0.104,0.096,0.085,0.076,0.078,0.088]};
var fitSo2Secondary = {x: [2500,10000,20000,30000,40000,50000,60000,67000],
  y: [0.052,0.050,0.048,0.046,0.043,0.041,0.039,0.037],
  hi: [0.054,0.052,0.050,0.048,0.047,0.046,0.046,0.047],
  lo: [0.050,0.048,0.046,0.043,0.040,0.036,0.031,0.027]};
var fitNo2Secondary = {x: [2500,10000,20000,30000,40000,50000,60000,67000],
  y: [0.032,0.037,0.042,0.046,0.048,0.048,0.046,0.0435],
  hi: [0.034,0.039,0.044,0.048,0.051,0.052,0.051,0.049],
  lo: [0.030,0.035,0.040,0.044,0.045,0.044,0.041,0.038]};
var fitPm10Tertiary = {x: [3000,10000,20000,30000,40000,50000,60000,70000,80000,90000,100000,106000],
  y: [0.113,0.107,0.100,0.096,0.094,0.094,0.095,0.0965,0.096,0.093,0.087,0.082],
  hi: [0.117,0.109,0.102,0.098,0.097,0.099,0.103,0.106,0.107,0.106,0.102,0.099],
  lo: [0.109,0.105,0.098,0.094,0.091,0.089,0.087,0.087,0.085,0.080,0.072,0.065]};
var fitSo2Tertiary = {x: [3000,20000,40000,60000,80000,105000],
  y: [0.053,0.049,0.044,0.039,0.034,0.029],
  hi: [0.055,0.051,0.048,0.045,0.042,0.040],
  lo: [0.051,0.047,0.040,0.033,0.026,0.017]};
var fitNo2Tertiary = {x: [4000,20000,40000,60000,80000,90000,105000],
  y: [0.034,0.041,0.046,0.050,0.053,0.053,0.0515],
  hi: [0.036,0.043,0.048,0.054,0.058,0.058,0.058],
  lo: [0.032,0.039,0.044,0.047,0.048,0.048,0.045]};

// ---- axes / labels ----
var rowTitles = ["Primary Industry Output (yuan)", "Secondary Industry Output (yuan)", "Tertiary Industry Output (yuan)"];
var xMax = [6000, 70000, 120000];
var xStep = [1000, 10000, 20000];
var pollutants = ["PM10", "SO2", "NO2"];
var pollutantColors = ["#800080", "#0f8a12", "#878a0c"];
var yStep = [0.04, 0.04, 0.02];
var yMax = [0.20, 0.16, 0.08];
var yMinLeft = [0.02, 0.02, 0];
var r2Text = [["0.203", "0.172", null], ["0.046", "0.018", "0.118"], ["0.044", "0.039", "0.135"]];
var pText = [["<0.01", "<0.01", null], ["=0.01", "=0.018", "=0.01"], ["<0.01", "<0.01", "<0.01"]];

var scatter = [[pm10Primary, so2Primary, no2Primary],
               [pm10Secondary, so2Secondary, no2Secondary],
               [pm10Tertiary, so2Tertiary, no2Tertiary]];
var fits = [[fitPm10Primary, fitSo2Primary, null],
            [fitPm10Secondary, fitSo2Secondary, fitNo2Secondary],
            [fitPm10Tertiary, fitSo2Tertiary, fitNo2Tertiary]];

// layout
var colLeft = [38, 275, 512], rowTop = [10, 245, 479], W = 213, H = 180;
var titleBase = [214, 449, 686];
var ylabX = [16, 245, 482];
var ylabY = [[59, 65, 71], [303, 302, 304], [537, 533, 542]];
var r2Pos = [[[166, 93], [402, 100], null], [[168, 329], [393, 329], [630, 344]], [[168, 557], [403, 571], [630, 565]]];

var svg = d3.select("#chart");

var defs = svg.append("defs");
defs.append("pattern")
    .attr("id", "hatch")
    .attr("width", 3).attr("height", 3)
    .attr("patternUnits", "userSpaceOnUse")
    .attr("patternTransform", "rotate(45)")
  .append("line")
    .attr("x1", 0).attr("y1", 0).attr("x2", 0).attr("y2", 3)
    .attr("stroke", "#e296c8").attr("stroke-width", 0.75);

for (var r = 0; r < 3; r++) {
  for (var c = 0; c < 3; c++) {
    drawPanel(r, c);
  }
}

function drawPanel(r, c) {
  var g = svg.append("g").attr("transform", "translate(" + colLeft[c] + "," + rowTop[r] + ")");
  var yMin = c == 0 ? yMinLeft[r] : 0;
  var x = d3.scaleLinear().domain([0, xMax[r]]).range([0, W]);
  var y = d3.scaleLinear().domain([yMin, yMax[c]]).range([H, 0]);

  var xt = d3.range(0, xMax[r] + 1, xStep[r]);
  var yt = d3.range(0, yMax[c] + 1e-9, yStep[c]).filter(function (v) { return v >= yMin - 1e-9; });
  if (c == 0 && r < 2) yt = yt.filter(function (v) { return v > yMin + 1e-9; });

  var fit = fits[r][c];
  if (fit) {
    var band = fit.x.map(function (v, i) { return {x: v, y: fit.y[i], hi: fit.hi[i], lo: fit.lo[i]}; });
    var area = d3.area().curve(d3.curveMonotoneX)
        .x(function (d) { return x(d.x); })
        .y0(function (d) { return y(d.lo); })
        .y1(function (d) { return y(d.hi); });
    g.append("path").datum(band).attr("d", area)
        .attr("fill", "url(#hatch)").attr("stroke", "none");
    ["hi", "lo"].forEach(function (k) {
      g.append("path").datum(band)
          .attr("d", d3.line().curve(d3.curveMonotoneX)
              .x(function (d) { return x(d.x); })
              .y(function (d) { return y(d[k]); }))
          .attr("fill", "none").attr("stroke", "#e39fcd").attr("stroke-width", 0.8);
    });
  }

  g.selectAll("circle.pt").data(scatter[r][c]).enter()
      .append("circle").attr("class", "pt")
      .attr("cx", function (d) { return x(d[0]); })
      .attr("cy", function (d) { return y(d[1]); })
      .attr("r", 1.7)
      .attr("fill", pollutantColors[c]);

  if (fit) {
    g.append("path").datum(band)
        .attr("d", d3.line().curve(d3.curveMonotoneX)
            .x(function (d) { return x(d.x); })
            .y(function (d) { return y(d.y); }))
        .attr("fill", "none").attr("stroke", "#3c3cc4").attr("stroke-width", 1.1);
  }

  var xAxis = g.append("g").attr("transform", "translate(0," + H + ")")
      .call(d3.axisBottom(x).tickValues(xt).tickSize(3).tickSizeOuter(0).tickPadding(2).tickFormat(d3.format("d")));
  var yAxis = g.append("g")
      .call(d3.axisLeft(y).tickValues(yt).tickSize(3).tickSizeOuter(0).tickPadding(2).tickFormat(d3.format(".2f")));
  [xAxis, yAxis].forEach(function (a) {
    a.select(".domain").attr("stroke", "#222").attr("stroke-width", 0.9);
    a.selectAll(".tick line").attr("stroke", "#222").attr("stroke-width", 0.8);
    a.selectAll(".tick text").attr("font-size", 7).attr("fill", "#333")
        .attr("font-family", "'Liberation Sans', Arial, sans-serif");
  });

  // legend
  var lg = g.append("g").attr("transform", "translate(" + (W - 40) + ",2)");
  lg.append("rect").attr("width", 28).attr("height", 7)
      .attr("fill", "#fff").attr("stroke", "#aaa").attr("stroke-width", 0.5);
  lg.append("circle").attr("cx", 5.5).attr("cy", 3.5).attr("r", 1.5).attr("fill", pollutantColors[c]);
  lg.append("text").attr("x", 10).attr("y", 5.4).attr("font-size", 5).attr("fill", "#555").text(pollutants[c]);

  // axis titles
  svg.append("text")
      .attr("x", colLeft[c] + W / 2 - 2).attr("y", titleBase[r])
      .attr("text-anchor", "middle").attr("font-size", 10.8).attr("fill", "#222")
      .text(rowTitles[r]);

  var yl = svg.append("text")
      .attr("transform", "translate(" + ylabX[c] + "," + ylabY[r][c] + ") rotate(-90)")
      .attr("text-anchor", "middle").attr("font-size", 11).attr("fill", "#222");
  if (c == 0) {
    yl.append("tspan").text("cPM");
    yl.append("tspan").attr("baseline-shift", "sub").attr("font-size", 7).text("10");
  } else if (c == 1) {
    yl.append("tspan").text("cSO");
    yl.append("tspan").attr("baseline-shift", "sub").attr("font-size", 7).text("2");
  } else {
    yl.append("tspan").text("c NO");
    yl.append("tspan").attr("baseline-shift", "sub").attr("font-size", 7).text("2");
  }
  yl.append("tspan").text("(mg m");
  yl.append("tspan").attr("baseline-shift", "super").attr("font-size", 7).text("-3");
  yl.append("tspan").text(")");

  // R2 annotation
  if (r2Text[r][c]) {
    var t = svg.append("text").attr("x", r2Pos[r][c][0]).attr("y", r2Pos[r][c][1])
        .attr("font-size", 6.8).attr("fill", "#333");
    t.append("tspan").text("R");
    t.append("tspan").attr("baseline-shift", "super").attr("font-size", 4.5).text("2");
    t.append("tspan").text("=" + r2Text[r][c] + ", ");
    t.append("tspan").attr("font-style", "italic").text("P");
    t.append("tspan").text(" " + pText[r][c]);
  }
}
</script>
</body>
</html>
